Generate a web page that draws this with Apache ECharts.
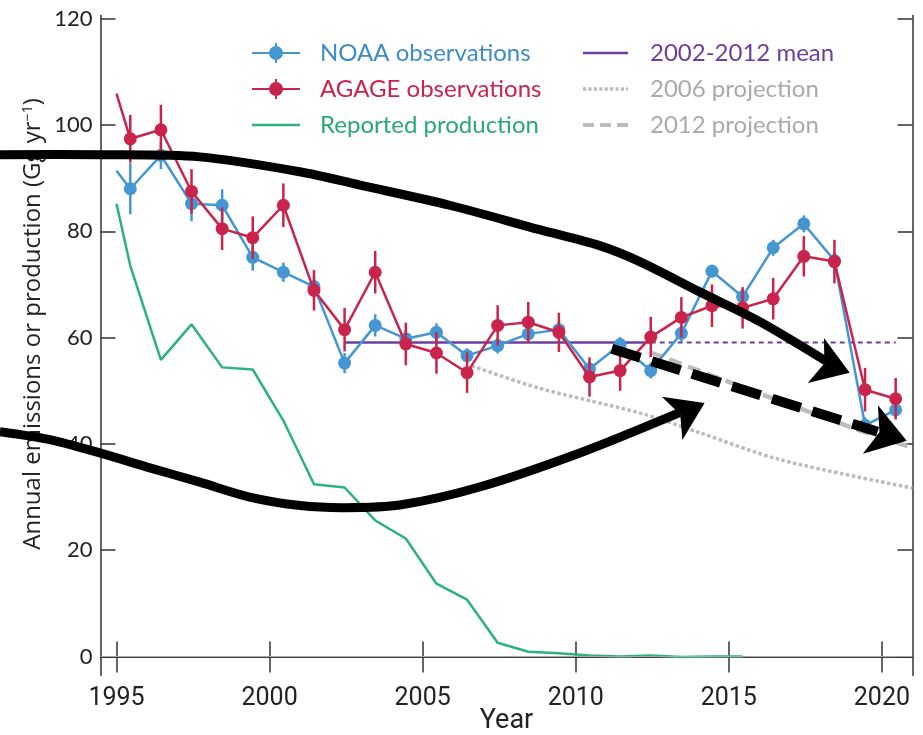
<!DOCTYPE html>
<html><head><meta charset="utf-8">
<script src="https://cdn.jsdelivr.net/npm/echarts@6/dist/echarts.min.js"></script>
<style>html,body{margin:0;padding:0;background:#fff}#c{width:923px;height:735px}</style>
</head><body><div id="c"></div>
<script>
// ---------------- data ----------------
const lineStartYear = 1995.0;
const obsYears = [1995.45,1996.45,1997.45,1998.45,1999.45,2000.45,2001.45,2002.45,2003.45,2004.45,2005.45,2006.45,2007.45,2008.45,2009.45,2010.45,2011.45,2012.45,2013.45,2014.45,2015.45,2016.45,2017.45,2018.45,2019.45,2020.45];
const noaaStart = 91.4;
const noaaValues = [88.0,94.3,85.2,84.9,75.1,72.3,69.6,55.2,62.3,59.8,61.0,56.6,58.5,60.7,61.5,54.1,58.7,53.8,60.8,72.5,67.7,76.9,81.4,74.5,43.5,46.4];
const noaaErr = [4.8,2.6,3.3,3.0,2.5,1.8,2.0,1.9,2.1,1.7,1.7,1.4,1.5,1.5,1.5,1.5,1.4,1.5,1.6,1.2,1.5,1.5,1.6,1.5,1.5,1.5];
const agageStart = 105.9;
const agageValues = [97.4,99.1,87.5,80.5,78.8,84.9,68.9,61.5,72.3,58.8,57.1,53.4,62.3,62.9,61.0,52.6,53.8,60.1,63.8,66.0,65.6,67.3,75.3,74.3,50.2,48.5];
const agageErr = [4.5,4.7,4.2,4.0,4.0,4.1,3.8,4.1,4.0,4.0,3.9,3.8,3.8,3.8,3.7,3.7,3.8,3.8,3.8,4.0,3.9,3.9,3.8,4.1,4.1,3.9];
const productionYears = [1995.0,1995.45,1996.45,1997.45,1998.45,1999.45,2000.45,2001.45,2002.45,2003.45,2004.45,2005.45,2006.45,2007.45,2008.45,2009.45,2010.45,2011.45,2012.45,2013.45,2014.45,2015.45];
const productionValues = [85.2,73.5,55.8,62.5,54.4,54.0,44.4,32.4,31.8,25.6,22.2,13.7,10.7,2.6,0.9,0.6,0.2,0.0,0.2,-0.1,0.0,0.0];
const meanValue = 59.1;
const meanSolidYears = [2002.45, 2012.45];
const meanDottedYears = [2012.45, 2020.45];
const proj2006Years = [2006.6, 2008.8, 2012.1, 2014.0, 2016.7, 2021.0];
const proj2006Values = [54.7, 50.5, 45.8, 42.2, 37.0, 31.7];
const proj2012Years = [2012.45, 2019.05, 2021.0];
const proj2012Values = [57.2, 43.0, 39.3];
const xTicks = [1995, 2000, 2005, 2010, 2015, 2020];
const yTicks = [0, 20, 40, 60, 80, 100, 120];
// annotation arrows (in data units): bodies, and [direction start, tip] for heads
const arrowCurveA = [[1991.19,94.4],[1994.46,94.4],[1997.72,94.0],[2000.99,91.2],[2002.95,88.7],[2005.88,84.9],[2008.82,80.3],[2010.78,77.3],[2012.09,74.3],[2014.05,68.6],[2016.01,63.0],[2018.17,55.6]];
const arrowHeadA = [[2018.37,54.6],[2018.95,53.4]];
const arrowCurveB = [[1991.19,42.3],[1992.82,40.8],[1994.45,38.3],[1996.09,35.5],[1997.72,32.8],[1999.35,30.0],[2001.0,28.4],[2002.45,28.0],[2004.25,28.5],[2006.86,31.9],[2010.13,38.3],[2013.39,45.9]];
const arrowHeadB = [[2013.66,46.2],[2014.21,47.7]];
const arrowDashed = [[2011.175,57.9],[2019.86,42.3]];
const arrowHeadC = [[2019.86,42.3],[2020.81,40.6]];

// ---------------- styles ----------------
const C_BLUE = '#4597d3', C_RED = '#c8244c', C_GREEN = '#2db27c', C_PURPLE = '#6b3fa0', C_GREY = '#bcbcbc';
const AX = '#333';

const toPairs = (xs, ys) => xs.map((x, i) => [x, ys[i]]);
function obsLine(name, start, vals, color, z) {
  const data = [{ value: [lineStartYear, start], symbol: 'none' }].concat(toPairs(obsYears, vals));
  return { type: 'line', name, data, z, symbol: 'circle', symbolSize: 13, showAllSymbol: true,
    lineStyle: { color, width: 2.5 }, itemStyle: { color }, emphasis: { disabled: true } };
}
function errSeries(vals, errs, color, z) {
  return { type: 'custom', name: '_err' + color, z, silent: true,
    data: obsYears.map((x, i) => [x, vals[i] - errs[i], vals[i] + errs[i]]),
    encode: { x: 0, y: [1, 2] },
    renderItem: (p, api) => {
      const a = api.coord([api.value(0), api.value(1)]);
      const b = api.coord([api.value(0), api.value(2)]);
      return { type: 'line', shape: { x1: a[0], y1: a[1], x2: b[0], y2: b[1] }, style: { stroke: color, lineWidth: 2.5 } };
    } };
}
function arrowBody(name, pts) {
  return { type: 'custom', name, z: 20, silent: true, clip: false,
    data: [pts[0]], encode: { x: 0, y: 1 },
    renderItem: (p, api) => ({ type: 'polyline',
      shape: { points: pts.map(q => api.coord(q)), smooth: 0.3 },
      style: { stroke: '#000', lineWidth: 9, fill: null } }) };
}
// legend icon paths (style only)
const markerIcon = 'path://M0,9 L48,9 L48,11 L0,11 Z M23,0 L25,0 L25,20 L23,20 Z M17,10 A7,7 0 1 1 31,10 A7,7 0 1 1 17,10 Z';
function dashIcon(total, dash, gap, h) {
  let s = 'path://', x = 0;
  while (x < total - 0.1) { const w = Math.min(dash, total - x); s += `M${x},0 L${x + w},0 L${x + w},${h} L${x},${h} Z `; x += dash + gap; }
  return s;
}
const solidIcon48 = dashIcon(48, 48, 0, 2.5);
const solidIcon45 = dashIcon(45, 45, 0, 2.5);
const dottedIcon = dashIcon(45, 3.2, 2.2, 3.5);
const dashedIcon = dashIcon(45, 11, 6, 4);

const chart = echarts.init(document.getElementById('c'), null, { renderer: 'canvas' });
const legendText = { fontFamily: 'Lato', fontSize: 24, padding: [0, 0, 0, 15] };
const option = {
  animation: false,
  grid: { left: 100.5, right: 10.5, top: 15.5, bottom: 59.5, outerBoundsMode: 'none', containLabel: false },
  legend: [
    { orient: 'vertical', left: 247, top: 36, itemWidth: 48, itemHeight: 20, itemGap: 12, selectedMode: false,
      textStyle: legendText,
      data: [
        { name: 'NOAA observations', icon: markerIcon, textStyle: { color: '#3d8cc8' } },
        { name: 'AGAGE observations', icon: markerIcon, textStyle: { color: C_RED } },
        { name: 'Reported production', icon: solidIcon48, textStyle: { color: '#2aa874' } }
      ] },
    { orient: 'vertical', left: 578, top: 36, itemWidth: 45, itemHeight: 20, itemGap: 12, selectedMode: false,
      textStyle: Object.assign({}, legendText, { padding: [0, 0, 0, 17] }),
      data: [
        { name: '2002-2012 mean', icon: solidIcon45, textStyle: { color: C_PURPLE } },
        { name: '2006 projection', icon: dottedIcon, textStyle: { color: '#aaaaaa' } },
        { name: '2012 projection', icon: dashedIcon, textStyle: { color: '#aaaaaa' } }
      ] }
  ],
  xAxis: [
    { type: 'value', position: 'bottom', min: 1994.477, max: 2021.0,
      name: 'Year', nameLocation: 'middle', nameGap: 32, nameMoveOverlap: false,
      nameTextStyle: { fontFamily: 'Roboto', fontSize: 27, color: '#222', verticalAlign: 'top' },
      axisLine: { show: true, lineStyle: { color: AX, width: 1.5 } },
      axisTick: { show: true, inside: true, length: 15, lineStyle: { color: AX, width: 1.5 }, customValues: xTicks },
      axisLabel: { show: true, customValues: xTicks, margin: 11, fontFamily: 'Roboto', fontSize: 25, color: '#222', formatter: v => String(v) },
      splitLine: { show: false } },
    { type: 'value', position: 'top', min: 1994.477, max: 2021.0,
      axisLine: { show: true, lineStyle: { color: AX, width: 1.5 } },
      axisTick: { show: true, inside: true, length: 16, lineStyle: { color: AX, width: 1.5 }, customValues: xTicks },
      axisLabel: { show: false }, splitLine: { show: false } }
  ],
  yAxis: [
    { type: 'value', position: 'left', min: -3.57, max: 120.6,
      name: 'Annual emissions or production (Gg yr{sup|−1})', nameLocation: 'middle', nameGap: 55, nameRotate: 90, nameMoveOverlap: false,
      nameTextStyle: { fontFamily: '"Open Sans"', fontSize: 24, color: '#222', padding: [0, 0, 0, 43],
        rich: { sup: { fontFamily: '"Open Sans"', fontSize: 14, color: '#222', verticalAlign: 'top', padding: [0, 0, 8, 0] } } },
      axisLine: { show: true, lineStyle: { color: AX, width: 1.5 } },
      axisTick: { show: true, inside: true, length: 15, lineStyle: { color: AX, width: 1.5 }, customValues: yTicks },
      axisLabel: { show: true, customValues: yTicks, margin: 8, fontFamily: 'Lato', fontSize: 22, color: '#222' },
      splitLine: { show: false } },
    { type: 'value', position: 'right', min: -3.57, max: 120.6,
      axisLine: { show: true, lineStyle: { color: AX, width: 1.5 } },
      axisTick: { show: true, inside: true, length: 15, lineStyle: { color: AX, width: 1.5 }, customValues: yTicks },
      axisLabel: { show: false }, splitLine: { show: false } }
  ],
  series: [
    { type: 'line', name: 'Reported production', z: 2, data: toPairs(productionYears, productionValues),
      symbol: 'none', lineStyle: { color: C_GREEN, width: 2.5 }, itemStyle: { color: C_GREEN },
      markLine: { silent: true, symbol: 'none', label: { show: false }, lineStyle: { color: '#a8a8a8', width: 1, type: 'solid' }, data: [{ yAxis: 0 }] } },
    { type: 'line', name: '2006 projection', z: 3, data: toPairs(proj2006Years, proj2006Values), smooth: 0.3,
      symbol: 'none', lineStyle: { color: C_GREY, width: 3.5, type: [3.5, 2.5] }, itemStyle: { color: C_GREY } },
    { type: 'line', name: '2012 projection', z: 3, data: toPairs(proj2012Years, proj2012Values), smooth: 0.3,
      symbol: 'none', lineStyle: { color: C_GREY, width: 4.5, type: [13, 7] }, itemStyle: { color: C_GREY } },
    { type: 'line', name: '2002-2012 mean', z: 4, data: meanSolidYears.map(x => [x, meanValue]),
      symbol: 'none', lineStyle: { color: C_PURPLE, width: 2.5 }, itemStyle: { color: C_PURPLE } },
    { type: 'line', name: '_meanExt', z: 4, data: meanDottedYears.map(x => [x, meanValue]),
      symbol: 'none', lineStyle: { color: C_PURPLE, width: 2, type: [5, 4] }, itemStyle: { color: C_PURPLE } },
    errSeries(noaaValues, noaaErr, C_BLUE, 5),
    obsLine('NOAA observations', noaaStart, noaaValues, C_BLUE, 6),
    errSeries(agageValues, agageErr, C_RED, 7),
    obsLine('AGAGE observations', agageStart, agageValues, C_RED, 8),
    // annotation arrows
    arrowBody('_arrowA', arrowCurveA),
    arrowBody('_arrowB', arrowCurveB),
    { type: 'lines', name: '_dashArrow', coordinateSystem: 'cartesian2d', z: 20, silent: true,
      symbol: ['none', 'none'],
      lineStyle: { color: '#000', width: 10, opacity: 1, type: [30, 12], curveness: 0 },
      data: [{ coords: arrowDashed }] },
    { type: 'lines', name: '_heads', coordinateSystem: 'cartesian2d', z: 21, silent: true,
      symbol: ['none', 'arrow'], symbolSize: 36,
      lineStyle: { color: '#000', width: 0, opacity: 1, curveness: 0 },
      data: [{ coords: arrowHeadA }, { coords: arrowHeadB }, { coords: arrowHeadC, symbolSize: 38 }] }
  ]
};
chart.setOption(option);
</script></body></html>
